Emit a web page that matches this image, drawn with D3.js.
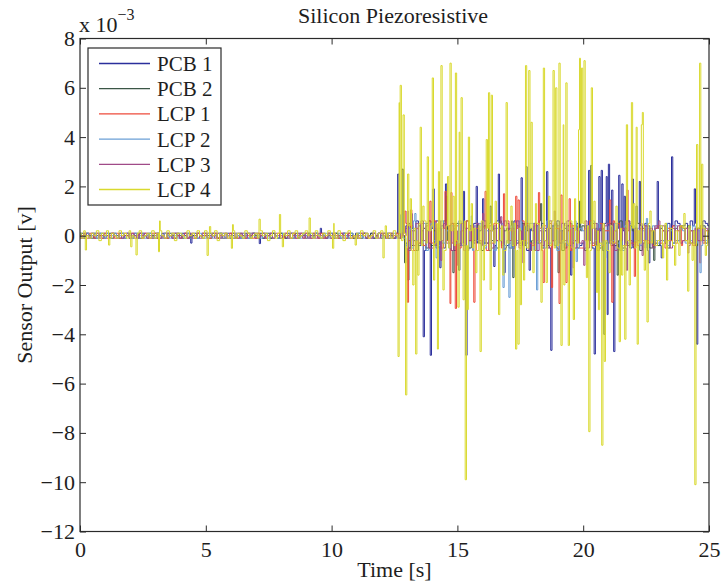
<!DOCTYPE html>
<html>
<head>
<meta charset="utf-8">
<script src="https://cdn.jsdelivr.net/npm/d3@7"></script>
<style>
  body { margin: 0; background: #fff; }
  svg text { font-family: "Liberation Serif", "DejaVu Serif", serif; fill: #1e1e1e; }
</style>
</head>
<body>
<svg id="chart" width="722" height="583"></svg>
<script>
// ---- data ----
const seriesNames = ['PCB 1', 'PCB 2', 'LCP 1', 'LCP 2', 'LCP 3', 'LCP 4'];
const seriesColors = ['#2b2f9c', '#3b5646', '#ee4b3b', '#6b9fd6', '#a04a88', '#d9d92e'];

const sampleStep = 0.1; // seconds between baseline samples

// baseline noise, units of 1e-4 V, one value every sampleStep from t = 0
const noisePCB1 = [
  1,-1,0,1,-1,1,-1,0,1,-1, 0,1,-1,1,0,-1,1,-1,0,1, -1,0,1,-1,1,-1,0,1,-1,0,
  1,-1,0,1,-1,1,0,-1,1,0, -1,1,0,-1,1,0,1,-1,0,1, 0,-1,1,0,1,-1,1,0,-1,1,
  1,0,-1,1,-1,0,1,-1,0,1, -1,1,0,-1,1,0,-1,1,0,-1, 1,0,-1,1,-1,1,0,-1,1,0,
  0,1,-1,0,1,-1,1,0,-1,1, -1,0,1,-1,0,1,-1,1,0,-1, 1,-1,0,1,-1,0,1,-1,0,1,
  0,1,-1,1,0,-1,1,-1,1,0,
  4,-5,3,-2,6,-4,2,-6,5,-3, 3,-4,6,-2,4,-5,3,-3,5,-6, -2,5,-4,3,-6,4,-2,5,-3,2,
  5,-3,4,-6,2,-4,6,-2,3,-5, -4,3,-5,6,-3,2,-4,5,-6,3, 2,-6,4,-3,5,-2,3,-5,4,-4,
  6,-3,2,-5,4,-6,3,-2,5,-4, -3,4,-2,6,-5,3,-4,2,-6,5, 4,-2,5,-4,3,-6,2,-3,6,-5,
  -5,3,-2,4,-3,5,-6,2,-4,3, 3,-4,2,-3,5,-2,4,6,5,3, 4,5,3,6,4,5,3,4,6,5, 4
];
const noisePCB2 = [
  0,1,-1,1,0,-1,1,-1,0,1, -1,0,1,-1,1,0,-1,1,-1,0, 1,-1,0,1,-1,1,0,-1,1,0,
  -1,1,-1,0,1,-1,1,0,-1,1, 0,-1,1,1,-1,0,-1,1,0,-1, 1,0,-1,1,0,-1,1,-1,1,0,
  -1,1,-1,0,1,-1,0,1,-1,1, 0,-1,1,-1,0,1,-1,1,0,-1, 1,0,-1,0,1,-1,1,-1,0,1,
  -1,1,0,-1,1,0,-1,1,-1,0, 1,-1,1,0,-1,1,0,-1,1,-1, 0,1,-1,1,-1,0,1,-1,0,1,
  -1,0,1,-1,1,-1,0,1,-1,0,
  -3,5,-4,2,-6,4,-2,3,-5,6, -4,2,-5,3,-3,6,-2,4,-6,3, 5,-3,2,-4,6,-5,3,-2,4,-3,
  -6,4,-3,5,-2,3,-5,6,-4,2, 3,-5,6,-2,4,-3,5,-4,2,-6, -2,4,-3,6,-5,2,-4,3,-2,5,
  -5,2,-6,3,-4,5,-3,4,-5,2, 4,-6,3,-2,5,-4,2,-5,3,-3, -3,5,-4,2,-2,6,-5,3,-4,4,
  2,-3,5,-6,3,-2,4,-5,2,-3, -4,3,-2,4,-5,2,-3,3,-2,4, 3,-2,4,-3,2,-4,3,-2,4,-3, 2
];
const noiseLCP1 = [
  -1,0,1,-1,1,0,-1,1,0,-1, 1,-1,0,1,-1,1,-1,0,1,0, 0,1,-1,0,1,-1,1,0,-1,1,
  1,-1,0,-1,1,-1,0,1,-1,0, -1,0,1,-1,0,1,-1,1,0,1, 0,1,-1,0,1,-1,0,1,-1,0,
  1,-1,1,-1,0,1,-1,0,1,-1, -1,1,0,1,-1,0,1,-1,0,1, 0,-1,1,0,-1,1,-1,0,1,-1,
  1,0,-1,1,0,-1,1,-1,0,1, -1,1,0,-1,1,0,-1,1,-1,0, 0,-1,1,0,1,-1,0,1,-1,1,
  1,0,-1,1,-1,0,1,-1,0,1,
  5,-2,4,-6,3,-3,5,-4,2,-5, -3,6,-4,2,-5,3,-2,4,-3,5, 4,-5,2,-3,6,-2,4,-6,3,-2,
  -2,3,-6,4,-3,5,-2,3,-5,4, 6,-3,2,-5,3,-4,6,-2,5,-3, -4,5,-2,3,-6,4,-3,5,-2,3,
  3,-4,5,-3,2,-6,4,-2,3,-5, -5,3,-2,6,-4,2,-3,5,-4,2, 2,-4,6,-3,5,-2,3,-4,2,-3,
  -3,2,-4,3,-2,4,-3,2,-4,3, 4,-3,2,-5,3,-2,4,-3,2,-4, -2,3,-3,2,-4,3,-2,3,-3,2, -1
];
const noiseLCP2 = [
  1,-1,0,1,-1,0,1,-1,1,0, -1,1,-1,0,1,-1,0,1,-1,1, 0,-1,1,-1,0,1,-1,0,1,-1,
  -1,1,0,-1,1,0,-1,1,0,-1, 1,0,-1,1,-1,1,0,-1,1,0, -1,1,0,-1,0,1,-1,1,-1,0,
  0,-1,1,0,-1,1,0,-1,1,1, 1,0,-1,1,0,-1,1,-1,0,-1, -1,1,0,-1,1,-1,0,1,-1,1,
  0,-1,1,-1,1,0,-1,0,1,-1, 1,0,-1,1,-1,1,0,-1,1,0, -1,1,0,-1,1,0,-1,1,-1,1,
  0,-1,1,0,-1,1,-1,0,1,-1,
  -4,3,-5,6,-2,4,-3,5,-6,2, 5,-2,3,-4,6,-3,2,-5,4,-3, -3,6,-4,2,-5,3,-6,4,-2,5,
  3,-5,2,-3,4,-6,3,-2,5,-4, -2,4,-5,3,-2,6,-4,2,-3,5, 5,-3,4,-2,3,-5,6,-3,4,-2,
  -6,2,-3,5,-4,3,-2,6,-5,3, 2,-5,4,-3,6,-2,5,-4,2,-6, -3,4,-2,5,-3,2,-6,4,-3,5,
  4,-2,3,-4,2,-5,3,-2,4,-2, -3,4,-2,3,-4,2,-3,4,-2,3, 2,-3,3,-2,4,-3,2,-4,3,-2, 1
];
const noiseLCP3 = [
  0,-1,1,0,-1,1,0,1,-1,0, 1,0,-1,1,0,-1,1,-1,0,1, -1,1,0,-1,1,0,1,-1,0,-1,
  0,1,-1,0,-1,1,0,-1,1,1, -1,0,1,-1,1,-1,0,1,-1,0, 1,-1,0,1,-1,1,-1,0,1,-1,
  0,1,-1,-1,1,0,-1,1,0,1, 1,-1,0,1,-1,0,1,-1,1,0, -1,0,1,-1,1,0,-1,1,0,-1,
  1,-1,0,1,-1,1,0,-1,-1,1, 0,1,-1,0,1,-1,1,0,-1,0, -1,0,1,1,-1,0,-1,1,0,-1,
  1,1,-1,0,1,-1,0,-1,1,0,
  3,-6,2,-4,5,-3,6,-2,4,-5, -5,3,-4,6,-2,5,-3,2,-6,4, 2,-4,5,-6,3,-2,4,-3,5,-2,
  -4,6,-3,2,-5,4,-2,5,-3,6, 5,-2,3,-4,6,-5,2,-3,4,-6, -3,5,-6,2,-4,3,-5,6,-2,4,
  4,-3,5,-2,6,-4,3,-5,2,-3, -2,6,-5,4,-3,5,-6,3,-2,4, 5,-3,2,-6,4,-2,3,-5,6,-2,
  -4,3,-2,5,-3,4,-2,3,-5,4, 3,-2,4,-3,2,-5,3,-2,4,-3, -2,3,-4,2,-3,3,-2,4,-2,3, -1
];
const noiseLCP4 = [
  1,-1,2,0,-1,1,0,2,-2,1, 0,2,-1,1,0,-1,2,0,1,-1, 2,0,-1,1,2,-1,0,1,-1,2,
  -1,1,2,0,-1,2,0,1,-2,1, 1,0,-1,2,0,1,-1,2,0,-1, 2,-1,1,0,2,-2,1,0,1,-1,
  0,2,-1,1,0,-1,2,1,-1,0, 1,-1,2,0,1,-2,0,2,-1,1, -1,1,0,2,-1,1,2,-1,0,1,
  2,0,1,-1,2,0,-1,1,0,2, 0,1,-1,2,0,-2,1,2,-1,0, 1,-1,2,0,1,-1,0,2,-1,1,
  2,0,-1,1,-1,2,0,1,-2,1,
  -5,4,-6,3,-2,5,-4,6,-3,2, 4,-3,5,-2,3,-6,4,-5,2,-4, -2,5,-3,6,-4,2,-5,3,-6,4,
  6,-4,3,-5,2,-3,5,-2,4,-6, -3,2,-4,5,-6,3,-2,4,-5,3, 2,-6,5,-3,4,-2,3,-4,6,-5,
  -4,3,-2,4,-3,6,-5,2,-3,5, 5,-2,4,-6,3,-4,2,-3,5,-2, -6,4,-3,2,-5,3,-4,6,-2,4,
  3,-5,2,-3,4,-2,5,-3,2,-4, -2,4,-3,5,-2,3,-4,2,-3,4, 3,-2,4,-3,2,-4,3,-2,3,-4, 2
];

// spikes [time s, value 1e-3 V]
const spikesPCB1 = [
  [4.4,-0.3],[7.15,-0.32],[9.6,0.3],
  [12.65,2.5],[13.2,0.9],[13.68,-4.1],[13.94,-4.85],[14.06,1.9],[14.3,-1.3],[14.55,2.1],
  [15.27,1.8],[15.37,-4.85],[15.79,2.0],[16.0,1.5],[16.49,-1.25],[16.65,2.5],[16.9,-1.5],
  [17.56,2.35],[17.9,-1.4],[18.59,2.6],[18.72,-4.65],[19.5,-1.6],[20.23,2.65],[20.47,-4.8],
  [20.64,2.4],[20.73,2.65],[20.93,2.4],[20.98,-3.2],[21.0,2.9],[21.16,1.85],[21.22,-4.7],
  [21.42,2.45],[21.57,2.1],[21.66,1.6],[21.99,2.3],[22.26,2.2],[22.6,-1.1],[22.98,2.2],
  [23.1,-0.9],[23.52,3.2],[24.43,1.9],[24.51,-4.4]
];
const spikesPCB2 = [
  [12.8,2.7],[12.9,-1.1],[13.05,-1.8],[14.6,1.6],[14.84,-1.5],[15.1,-1.4],[16.3,1.2],
  [17.2,-1.7],[17.74,2.8],[18.3,1.3],[19.0,-1.5],[19.9,1.4],[20.3,2.85],[20.84,-4.0],
  [21.4,-1.6],[22.1,1.2],[22.8,-1.0]
];
const spikesLCP1 = [
  [12.9,1.0],[13.02,-2.7],[13.18,1.05],[13.91,1.4],[14.51,1.8],[14.71,-2.75],[14.77,1.75],
  [14.93,-2.95],[15.7,-2.7],[16.1,1.8],[16.86,1.7],[17.33,1.6],[17.42,1.45],[18.24,1.75],
  [18.41,-1.9],[18.77,-2.1],[19.08,-2.75],[19.12,1.65],[19.32,-1.9],[19.48,1.5],
  [21.09,1.45],[21.17,-2.7],[21.77,1.85],[22.06,-1.65],[23.9,0.4],[24.65,-1.1]
];
const spikesLCP2 = [
  [12.78,0.85],[13.31,0.9],[14.2,-0.9],[15.6,0.8],[16.82,-2.1],[17.09,-2.5],[18.19,-2.2],
  [19.74,-1.05],[20.9,-0.9],[22.52,0.7],[23.3,0.5],[24.68,-1.5]
];
const spikesLCP3 = [
  [13.0,1.0],[14.37,-1.0],[15.0,-1.2],[16.0,0.9],[16.73,0.77],[17.6,-1.1],[18.9,1.0],
  [19.6,-1.3],[20.04,-1.2],[21.73,-1.4],[22.38,-0.8],[23.0,0.6],[24.2,-0.7]
];
const spikesLCP4 = [
  [0.22,-0.58],[1.17,-0.38],[2.03,-0.45],[2.25,-0.78],[3.14,-0.65],[3.18,0.6],[5.1,-0.8],
  [5.19,0.37],[6.03,-0.51],[6.09,0.45],[7.13,0.67],[7.95,0.86],[8.08,-0.45],[9.11,0.72],
  [10.07,-0.51],[10.1,0.5],[10.97,-0.38],[12.08,-0.9],[12.16,0.4],
  [12.68,-4.9],[12.69,5.4],[12.75,6.1],[12.88,4.9],[12.98,-6.46],[13.04,2.5],[13.15,1.5],
  [13.25,-2.0],[13.38,-4.8],[13.45,-1.6],[13.54,4.4],[13.65,1.2],[13.8,3.2],[14.0,6.4],
  [14.1,-1.8],[14.21,-4.6],[14.28,2.6],[14.39,6.9],[14.45,-2.2],[14.61,2.4],[14.71,7.0],
  [14.85,1.6],[14.94,6.6],[15.04,-2.9],[15.1,4.2],[15.19,5.6],[15.25,-2.6],[15.32,-9.9],
  [15.4,-3.0],[15.47,4.0],[15.6,1.3],[15.75,-1.5],[15.9,-4.7],[16.05,-1.8],[16.19,3.9],
  [16.27,5.8],[16.3,-2.2],[16.39,5.7],[16.5,1.4],[16.67,-3.2],[16.8,-1.6],[16.97,5.4],
  [17.15,1.2],[17.32,-4.6],[17.41,-4.4],[17.5,-2.8],[17.65,-1.8],[17.71,6.9],[17.87,6.7],
  [17.95,4.6],[18.0,-1.5],[18.1,1.3],[18.34,-2.7],[18.43,6.8],[18.55,-1.9],[18.65,1.6],
  [18.8,6.7],[18.91,6.0],[19.07,7.0],[19.13,-4.45],[19.21,4.5],[19.25,-2.0],[19.32,6.2],
  [19.41,-4.45],[19.61,-3.4],[19.7,1.5],[19.83,4.3],[19.88,7.2],[19.96,6.8],[20.06,7.1],
  [20.15,-1.7],[20.24,-7.95],[20.34,6.0],[20.45,1.4],[20.55,-2.3],[20.61,-3.0],[20.77,-8.5],
  [20.87,-5.1],[21.05,-1.5],[21.3,1.2],[21.46,-4.3],[21.55,-1.6],[21.7,-4.2],[21.73,4.5],
  [21.85,-2.0],[21.93,5.4],[22.0,1.3],[22.11,4.4],[22.18,-4.4],[22.32,4.5],[22.38,5.0],
  [22.45,-1.4],[22.57,-3.5],[22.7,1.0],[23.2,-0.9],[23.32,-1.8],[23.66,-1.2],[23.8,-0.8],
  [24.0,0.9],[24.2,-2.25],[24.35,-1.0],[24.47,-10.1],[24.51,3.7],[24.65,7.0],[24.71,2.9],
  [24.9,-0.8]
];

const xTicks = [0, 5, 10, 15, 20, 25];
const yTicks = [-12, -10, -8, -6, -4, -2, 0, 2, 4, 6, 8];

const noiseSets = [noisePCB1, noisePCB2, noiseLCP1, noiseLCP2, noiseLCP3, noiseLCP4];
const spikeSets = [spikesPCB1, spikesPCB2, spikesLCP1, spikesLCP2, spikesLCP3, spikesLCP4];

// ---- layout ----
const margin = { top: 38.5, right: 13, bottom: 51.5, left: 80 };
const width = 722 - margin.left - margin.right;
const height = 583 - margin.top - margin.bottom;
const fontSize = 22;
const axisColor = '#2a2a2a';

const svg = d3.select('#chart');
const chart = svg.append('g')
  .attr('transform', `translate(${margin.left},${margin.top})`);

const xScale = d3.scaleLinear().domain([0, 25]).range([0, width]);
const yScale = d3.scaleLinear().domain([-12, 8]).range([height, 0]);

// merge baseline samples with spikes, in time order
function buildSeries(noise, spikes) {
  const pts = noise.map((n, i) => [i * sampleStep, n / 10]);
  return pts.concat(spikes).sort((a, b) => a[0] - b[0]);
}

const series = seriesNames.map((name, i) => ({
  name: name,
  color: seriesColors[i],
  values: buildSeries(noiseSets[i], spikeSets[i])
}));

chart.append('clipPath').attr('id', 'plot-clip')
  .append('rect').attr('width', width).attr('height', height);

// step curve keeps the spikes vertical like a densely sampled trace
const line = d3.line()
  .curve(d3.curveStep)
  .x(d => xScale(d[0]))
  .y(d => yScale(d[1]));

chart.append('g')
  .attr('clip-path', 'url(#plot-clip)')
  .selectAll('path')
  .data(series)
  .join('path')
  .attr('fill', 'none')
  .attr('stroke', d => d.color)
  .attr('stroke-width', 1)
  .attr('d', d => line(d.values));

// axes, MATLAB style: ticks inside on all four sides
function styleAxis(g) {
  g.select('.domain').remove();
  g.selectAll('.tick line').attr('stroke', axisColor).attr('stroke-width', 1);
  g.selectAll('.tick text')
    .attr('font-size', fontSize)
    .attr('font-family', '"Liberation Serif", serif')
    .attr('fill', '#1e1e1e');
}

chart.append('g')
  .call(d3.axisLeft(yScale).tickValues(yTicks).tickSize(-6).tickSizeOuter(0).tickPadding(5))
  .call(styleAxis);

chart.append('g')
  .attr('transform', `translate(${width},0)`)
  .call(d3.axisRight(yScale).tickValues(yTicks).tickSize(-6).tickSizeOuter(0).tickFormat(''))
  .call(styleAxis);

chart.append('g')
  .attr('transform', `translate(0,${height})`)
  .call(d3.axisBottom(xScale).tickValues(xTicks).tickSize(-6).tickSizeOuter(0).tickPadding(10))
  .call(styleAxis);

chart.append('g')
  .call(d3.axisTop(xScale).tickValues(xTicks).tickSize(-6).tickSizeOuter(0).tickFormat(''))
  .call(styleAxis);

chart.append('rect')
  .attr('width', width)
  .attr('height', height)
  .attr('fill', 'none')
  .attr('stroke', axisColor)
  .attr('stroke-width', 1.2);

// exponent label
const expo = svg.append('text')
  .attr('x', 79)
  .attr('y', 32)
  .attr('font-size', fontSize);
expo.append('tspan').text('x 10');
expo.append('tspan')
  .attr('dy', -12)
  .attr('font-size', 16)
  .text('\u22123');

// title and axis titles
svg.append('text')
  .attr('x', 393)
  .attr('y', 23)
  .attr('text-anchor', 'middle')
  .attr('font-size', fontSize)
  .text('Silicon Piezoresistive');

svg.append('text')
  .attr('x', margin.left + width / 2)
  .attr('y', 577)
  .attr('text-anchor', 'middle')
  .attr('font-size', fontSize)
  .text('Time [s]');

svg.append('text')
  .attr('transform', `translate(32,${margin.top + height / 2}) rotate(-90)`)
  .attr('text-anchor', 'middle')
  .attr('font-size', fontSize)
  .text('Sensor Output [v]');

// legend
const legend = svg.append('g').attr('transform', 'translate(88,48)');
legend.append('rect')
  .attr('width', 133)
  .attr('height', 157)
  .attr('fill', '#fff')
  .attr('stroke', axisColor)
  .attr('stroke-width', 1.2);

const entry = legend.selectAll('.entry')
  .data(series)
  .join('g')
  .attr('class', 'entry')
  .attr('transform', (d, i) => `translate(0,${15.5 + i * 25.2})`);

entry.append('line')
  .attr('x1', 11).attr('x2', 62)
  .attr('stroke', d => d.color)
  .attr('stroke-width', 1.3);

entry.append('text')
  .attr('x', 69)
  .attr('y', 7.5)
  .attr('font-size', 21)
  .text(d => d.name);
</script>
</body>
</html>
